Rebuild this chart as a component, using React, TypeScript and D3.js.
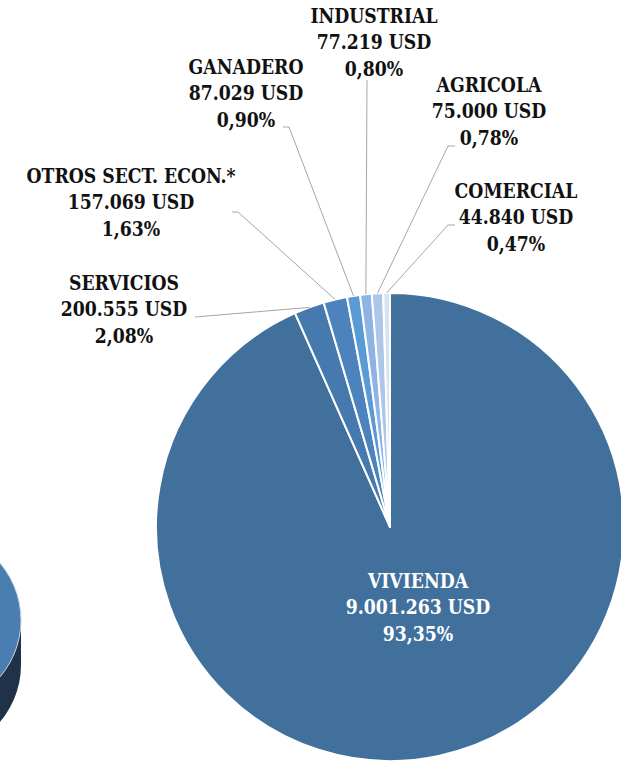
import React, { useRef, useEffect } from 'react';
import * as d3 from 'd3';

// sectors, clockwise from 12 o'clock
const sectors = ['VIVIENDA', 'SERVICIOS', 'OTROS SECT. ECON.*', 'GANADERO', 'INDUSTRIAL', 'AGRICOLA', 'COMERCIAL'];
const amounts = [9001263, 200555, 157069, 87029, 77219, 75000, 44840];
const amountLabels = ['9.001.263 USD', '200.555 USD', '157.069 USD', '87.029 USD', '77.219 USD', '75.000 USD', '44.840 USD'];
const percentLabels = ['93,35%', '2,08%', '1,63%', '0,90%', '0,80%', '0,78%', '0,47%'];
const colors = ['#41709c', '#4679ad', '#4c83bd', '#5b9bd5', '#8fb4e3', '#aec7e8', '#d6e3f3'];

interface Slice {
    sector: string;
    amount: number;
    amountLabel: string;
    percentLabel: string;
}

// label layout: text centre x, first baseline y, and the elbow of the leader line
const labelPos: { x: number; y: number; lx?: number; ly?: number; kx?: number }[] = [
    { x: 418, y: 588 },
    { x: 124, y: 290, lx: 195, ly: 317, kx: 195 },
    { x: 131, y: 183, lx: 232, ly: 212, kx: 238 },
    { x: 246, y: 74, lx: 283, ly: 127, kx: 289 },
    { x: 374, y: 23, lx: 367, ly: 80, kx: 367 },
    { x: 489, y: 92, lx: 455, ly: 146, kx: 448 },
    { x: 516, y: 198, lx: 455, ly: 225, kx: 448 },
];

const App: React.FC = () => {
    const svgRef = useRef<SVGSVGElement | null>(null);

    useEffect(() => {
        if (!svgRef.current) return;
        const svg = d3.select(svgRef.current);
        svg.selectAll('*').remove();

        const data: Slice[] = sectors.map((s, i) => ({
            sector: s,
            amount: amounts[i],
            amountLabel: amountLabels[i],
            percentLabel: percentLabels[i],
        }));

        const cx = 390;
        const cy = 527;
        const radius = 234;
        const lineH = 26.5;
        const stretchY = 1.1;  // Cambria-like taller glyphs

        // fragment of the neighbouring 3D pie, cut by the page edge
        const frag = svg.append('g');
        frag.append('ellipse')
            .attr('cx', -70).attr('cy', 665).attr('rx', 91).attr('ry', 89)
            .attr('fill', '#1f3247');
        frag.append('rect')
            .attr('x', -161).attr('y', 620).attr('width', 182).attr('height', 45)
            .attr('fill', '#1f3247');
        frag.append('ellipse')
            .attr('cx', -70).attr('cy', 620).attr('rx', 91).attr('ry', 89)
            .attr('fill', '#4a7eb0')
            .attr('stroke', '#c8d6e6')
            .attr('stroke-width', 1);

        const color = d3.scaleOrdinal<string, string>()
            .domain(sectors)
            .range(colors);

        const pie = d3.pie<Slice>().sort(null).value(d => d.amount);
        const arc = d3.arc<d3.PieArcDatum<Slice>>()
            .innerRadius(0)
            .outerRadius(radius);

        const g = svg.append('g')
            .attr('transform', `translate(${cx},${cy})`);

        const arcs = pie(data);

        g.selectAll('path.slice')
            .data(arcs)
            .enter().append('path')
            .attr('class', 'slice')
            .attr('d', d => arc(d) as string)
            .attr('fill', d => color(d.data.sector))
            .attr('stroke', '#ffffff')
            .attr('stroke-width', 2)
            .attr('stroke-linejoin', 'round');

        // leader lines
        arcs.forEach((d, i) => {
            const p = labelPos[i];
            if (p.lx === undefined) return;
            const mid = (d.startAngle + d.endAngle) / 2;
            const ex = cx + Math.sin(mid) * radius;
            const ey = cy - Math.cos(mid) * radius;
            svg.append('polyline')
                .attr('points', `${p.lx},${p.ly} ${p.kx},${p.ly} ${ex},${ey}`)
                .attr('fill', 'none')
                .attr('stroke', '#a6a6a6')
                .attr('stroke-width', 1);
        });

        // labels
        arcs.forEach((d, i) => {
            const p = labelPos[i];
            const t = svg.append('text')
                .attr('transform', `translate(${p.x},${p.y}) scale(1,${stretchY})`)
                .attr('text-anchor', 'middle')
                .attr('font-family', '"DejaVu Serif Condensed", "DejaVu Serif", serif')
                .attr('font-stretch', 'condensed')
                .attr('font-weight', 'bold')
                .attr('font-size', 19.2)
                .attr('fill', i === 0 ? '#ffffff' : '#111111');
            [d.data.sector, d.data.amountLabel, d.data.percentLabel].forEach((s, j) => {
                t.append('tspan')
                    .attr('x', 0)
                    .attr('y', (j * lineH) / stretchY)
                    .text(s);
            });
        });
    }, []);

    return (
        <svg
            ref={svgRef}
            width={621}
            height={762}
            style={{ position: 'absolute', left: 0, top: 0, background: '#ffffff' }}
        />
    );
};

export default App;
